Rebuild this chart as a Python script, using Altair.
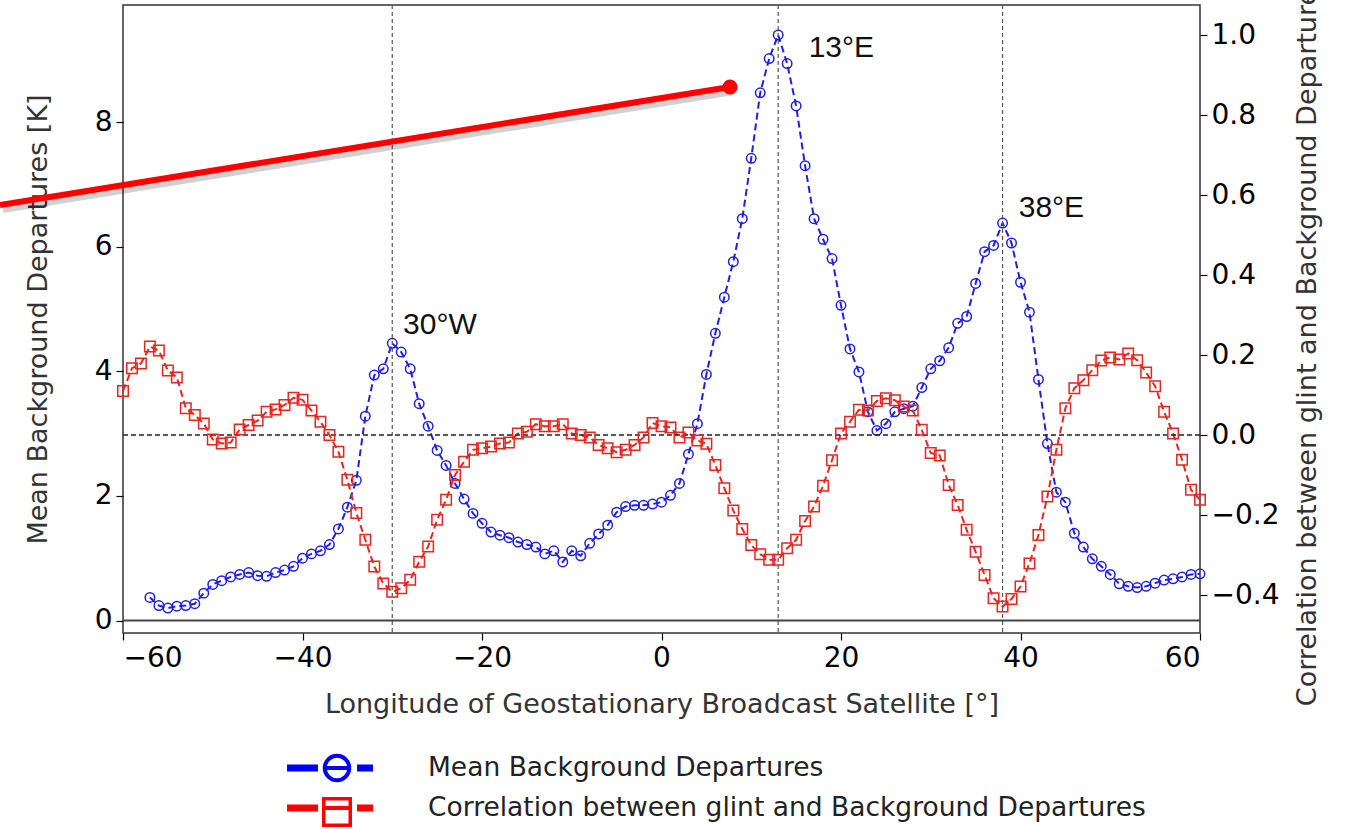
import altair as alt
import pandas as pd

# ---------------- data ----------------
lon_blue = list(range(-57, 61))
mean_bg_dep = [
    0.37, 0.24, 0.20, 0.23, 0.24, 0.27, 0.44, 0.58, 0.64, 0.70,   # -57..-48
    0.74, 0.77, 0.72, 0.71, 0.77, 0.81, 0.87, 1.00, 1.07, 1.12,   # -47..-38
    1.22, 1.47, 1.82, 2.25, 3.28, 3.94, 4.04, 4.45, 4.31, 4.04,   # -37..-28
    3.48, 3.12, 2.73, 2.49, 2.20, 1.95, 1.72, 1.56, 1.42, 1.37,   # -27..-18
    1.33, 1.26, 1.22, 1.18, 1.07, 1.12, 0.94, 1.12, 1.04, 1.24,   # -17..-8
    1.39, 1.53, 1.74, 1.83, 1.85, 1.85, 1.87, 1.90, 2.01, 2.20,   # -7..2
    2.67, 3.16, 3.95, 4.61, 5.19, 5.76, 6.45, 7.42, 8.47, 9.02,   # 3..12
    9.40, 8.94, 8.26, 7.30, 6.45, 6.12, 5.81, 5.06, 4.36, 3.99,   # 13..22
    3.35, 3.05, 3.16, 3.35, 3.40, 3.44, 3.74, 4.04, 4.17, 4.38,   # 23..32
    4.77, 4.88, 5.41, 5.92, 6.02, 6.38, 6.06, 5.43, 4.95, 3.87,   # 33..42
    2.84, 2.06, 1.90, 1.40, 1.18, 0.99, 0.87, 0.74, 0.59, 0.55,   # 43..52
    0.53, 0.55, 0.60, 0.65, 0.67, 0.70, 0.74, 0.75,               # 53..60
]

lon_red = list(range(-60, 61))
correlation = [
    0.110, 0.167, 0.179, 0.221, 0.211, 0.161, 0.144, 0.067, 0.050, 0.029,   # -60..-51
    -0.011, -0.021, -0.019, 0.014, 0.025, 0.036, 0.058, 0.064, 0.075, 0.093,  # -50..-41
    0.088, 0.061, 0.033, 0.000, -0.042, -0.112, -0.195, -0.262, -0.329, -0.371,  # -40..-31
    -0.392, -0.383, -0.362, -0.317, -0.279, -0.212, -0.162, -0.100, -0.067, -0.037,  # -30..-21
    -0.033, -0.029, -0.021, -0.019, 0.004, 0.008, 0.027, 0.022, 0.022, 0.027,  # -20..-11
    0.004, 0.000, -0.006, -0.025, -0.033, -0.043, -0.037, -0.025, -0.006, 0.030,  # -10..-1
    0.022, 0.019, -0.006, 0.006, -0.014, -0.022, -0.075, -0.133, -0.189, -0.235,  # 0..9
    -0.275, -0.298, -0.312, -0.312, -0.283, -0.262, -0.215, -0.179, -0.127, -0.063,  # 10..19
    0.004, 0.033, 0.063, 0.061, 0.085, 0.092, 0.087, 0.071, 0.061, 0.013,  # 20..29
    -0.045, -0.051, -0.125, -0.175, -0.237, -0.292, -0.350, -0.408, -0.429, -0.410,  # 30..39
    -0.379, -0.321, -0.250, -0.154, -0.037, 0.067, 0.117, 0.137, 0.162, 0.186,  # 40..49
    0.194, 0.189, 0.204, 0.187, 0.156, 0.122, 0.058, 0.004, -0.062, -0.137,  # 50..59
    -0.162,  # 60
]

sat_lons = [-30, 13, 38]
sat_labels = ["30°W", "13°E", "38°E"]
label_x = [-28.8, 16.4, 39.8]
label_y = [4.74, 9.19, 6.62]

x_ticks = [-60, -40, -20, 0, 20, 40, 60]
left_ticks = [0, 2, 4, 6, 8]
right_ticks = [-0.4, -0.2, 0.0, 0.2, 0.4, 0.6, 0.8, 1.0]

legend_labels = ["Mean Background Departures",
                 "Correlation between glint and Background Departures"]

# ---------------- frames ----------------
blue_df = pd.DataFrame({"lon": lon_blue, "val": mean_bg_dep})
red_df = pd.DataFrame({"lon": lon_red, "val": correlation})
sat_df = pd.DataFrame({"lon": sat_lons})
lab_df = pd.DataFrame({"lon": label_x, "val": label_y, "t": sat_labels})
zero_df = pd.DataFrame({"val": [0.0]})
one = pd.DataFrame({"a": [0]})

W, H = 1077, 628
FONT = "DejaVu Sans"
BLUE = "#1f1fe6"
RED = "#e8251f"

xscale = alt.Scale(domain=[-60, 60], nice=False, zero=False)
lscale = alt.Scale(domain=[-0.2, 9.88], nice=False, zero=False)
rscale = alt.Scale(domain=[-0.495, 1.075], nice=False, zero=False)

common = dict(labelFont=FONT, labelFontSize=28, labelColor="black", labelPadding=4,
              titleFont=FONT, titleFontSize=27, titleFontWeight="normal", titleColor="#333333",
              tickSize=7, tickColor="black", tickWidth=1.2, domain=False, grid=False)
xaxis = alt.Axis(values=x_ticks, format="d",
                 title="Longitude of Geostationary Broadcast Satellite [°]",
                 titlePadding=19, **common)
laxis = alt.Axis(values=left_ticks, format="d", title="Mean Background Departures [K]",
                 titlePadding=42, **common)
raxis = alt.Axis(values=right_ticks, format=".1f", orient="right",
                 title="Correlation between glint and Background Departures",
                 titleAngle=270, titleBaseline="top", titlePadding=16, titleY=335, **common)

X = alt.X("lon:Q", scale=xscale, axis=xaxis)
YL = alt.Y("val:Q", scale=lscale, axis=laxis)
YR = alt.Y("val:Q", scale=rscale, axis=raxis)

# ---------------- left (blue) group ----------------
sat_rules = alt.Chart(sat_df).mark_rule(color="#555555", strokeWidth=1.2, strokeDash=[4, 3]).encode(
    x=X, y=alt.value(0), y2=alt.value(H)
)
zero_solid = alt.Chart(zero_df).mark_rule(color="#444444", strokeWidth=2).encode(
    y=YL, x=alt.value(0), x2=alt.value(W)
)
blue_line = alt.Chart(blue_df).mark_line(color=BLUE, strokeWidth=2, strokeDash=[7, 4]).encode(x=X, y=YL)
blue_pts = alt.Chart(blue_df).mark_point(shape="circle", filled=False, color=BLUE, size=90,
                                         strokeWidth=1.5, opacity=1).encode(x=X, y=YL)
sat_text = alt.Chart(lab_df).mark_text(font="Liberation Sans", fontSize=30, align="left",
                                       baseline="middle", color="#111111").encode(
    x=X, y=YL, text="t:N")
left_group = alt.layer(blue_line, sat_rules, zero_solid, blue_pts, sat_text)

# ---------------- right (red) group ----------------
red_line = alt.Chart(red_df).mark_line(color=RED, strokeWidth=2, strokeDash=[7, 4]).encode(x=X, y=YR)
zero_dash = alt.Chart(zero_df).mark_rule(color="#222222", strokeWidth=1.3, strokeDash=[5, 3]).encode(
    y=YR, x=alt.value(0), x2=alt.value(W)
)
red_pts = alt.Chart(red_df).mark_point(shape="square", filled=False, color=RED, size=110,
                                       strokeWidth=1.5, opacity=1).encode(x=X, y=YR)
right_group = alt.layer(red_line, zero_dash, red_pts)

# ---------------- overlay: legend + red pointer ----------------
OX, OY = 123, 5  # plot origin on the page


def seg(x1, x2, y, color, width):
    return alt.Chart(one).mark_rule(color=color, strokeWidth=width).encode(
        x=alt.value(x1 - OX), x2=alt.value(x2 - OX), y=alt.value(y - OY), y2=alt.value(y - OY))


overlay = [
    seg(287, 318, 768, "#0000ff", 7), seg(324, 350, 768, "#0000ff", 4), seg(357, 373, 768, "#0000ff", 7),
    alt.Chart(one).mark_point(shape="circle", filled=False, color="#0000ff", size=600, strokeWidth=4,
                              opacity=1).encode(x=alt.value(337 - OX), y=alt.value(768 - OY)),
    seg(287, 318, 808, "#ff0000", 7), seg(324, 350, 808, "#ff0000", 4), seg(357, 373, 808, "#ff0000", 7),
    alt.Chart(one).mark_point(shape="square", filled=False, color="#ff0000", size=700, strokeWidth=3.5,
                              opacity=1).encode(x=alt.value(337 - OX), y=alt.value(812 - OY)),
    alt.Chart(one).mark_text(text=legend_labels[0], font=FONT, fontSize=26.5, align="left",
                             baseline="middle", color="#222222").encode(
        x=alt.value(428 - OX), y=alt.value(768 - OY)),
    alt.Chart(one).mark_text(text=legend_labels[1], font=FONT, fontSize=26.5, align="left",
                             baseline="middle", color="#222222").encode(
        x=alt.value(428 - OX), y=alt.value(808 - OY)),
    alt.Chart(one).mark_rule(color="#000000", opacity=0.18, strokeWidth=8).encode(
        x=alt.value(0 - OX + 3), x2=alt.value(730 - OX + 3), y=alt.value(209 - OY), y2=alt.value(91 - OY)),
    alt.Chart(one).mark_rule(color="#ff0000", strokeWidth=6).encode(
        x=alt.value(0 - OX), x2=alt.value(730 - OX), y=alt.value(205 - OY), y2=alt.value(87 - OY)),
    alt.Chart(one).mark_point(shape="circle", filled=True, color="#ff0000", size=230, opacity=1).encode(
        x=alt.value(730 - OX), y=alt.value(87 - OY)),
]

chart = alt.layer(left_group, right_group, *overlay).resolve_scale(
    y="independent"
).properties(
    width=W, height=H,
    background="white",
    padding={"left": OX, "top": OY, "right": 1351 - OX - W, "bottom": 829 - OY - H},
    autosize=alt.AutoSizeParams(type="none"),
).configure_view(stroke="#333333", strokeWidth=1.5)

chart.save("out.html", embed_options={"renderer": "svg", "actions": False})
